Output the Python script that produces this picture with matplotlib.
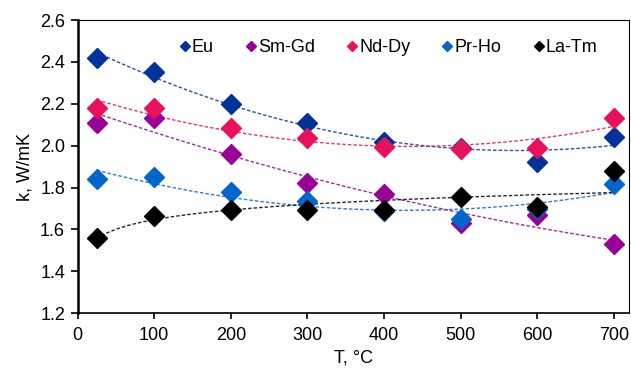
import numpy as np
import matplotlib
matplotlib.use("Agg")
import matplotlib.pyplot as plt

plt.rcParams['font.family'] = ['Liberation Sans', 'DejaVu Sans']

T = [25, 100, 200, 300, 400, 500, 600, 700]
series_names = ["Eu", "Sm-Gd", "Nd-Dy", "Pr-Ho", "La-Tm"]
eu = [2.42, 2.35, 2.20, 2.11, 2.02, 1.99, 1.92, 2.04]
sm_gd = [2.11, 2.13, 1.96, 1.82, 1.77, 1.63, 1.67, 1.53]
nd_dy = [2.18, 2.18, 2.085, 2.035, 1.995, 1.985, 1.99, 2.13]
pr_ho = [1.84, 1.85, 1.78, 1.735, 1.69, 1.648, 1.70, 1.815]
la_tm = [1.56, 1.665, 1.695, 1.695, 1.695, 1.755, 1.705, 1.88]
colors = ["#003399", "#990099", "#E8115B", "#0066CC", "#000000"]
trend_kind = ["poly", "poly", "poly", "poly", "log"]

xticks = [0, 100, 200, 300, 400, 500, 600, 700]
yticks = [1.2, 1.4, 1.6, 1.8, 2.0, 2.2, 2.4, 2.6]

fig = plt.figure(figsize=(6.31, 3.72), dpi=100)
ax = fig.add_axes([0.123, 0.158, 0.8743, 0.788])

data = [eu, sm_gd, nd_dy, pr_ho, la_tm]
x = np.array(T, dtype=float)
xs = np.linspace(x.min(), x.max(), 200)
for name, y, c, kind in zip(series_names, data, colors, trend_kind):
    y = np.array(y)
    if kind == "poly":
        p = np.polyfit(x, y, 2)
        ys = np.polyval(p, xs)
    else:
        p = np.polyfit(np.log(x), y, 1)
        ys = np.polyval(p, np.log(xs))
    ax.plot(xs, ys, linestyle=(0, (2.5, 1.5)), color=c, lw=1.0, alpha=0.85, zorder=2)
for name, y, c in zip(series_names, data, colors):
    ax.plot(T, y, linestyle='none', marker='D', markersize=10, color=c,
            markeredgecolor=c, label=name, zorder=3)

ax.set_xlim(0, 720)
ax.set_ylim(1.2, 2.6)
ax.set_xticks(xticks)
ax.set_yticks(yticks)
ax.set_yticklabels([f"{v:.1f}" for v in yticks])
ax.tick_params(direction='out', length=4, width=1.2, labelsize=13, colors='black')
ax.tick_params(axis='y', length=5, pad=4)
ax.tick_params(axis='x', pad=6)
for s in ['top', 'right']:
    ax.spines[s].set_linewidth(0.8)
ax.spines['left'].set_linewidth(1.8)
ax.spines['bottom'].set_linewidth(1.2)
ax.set_xlabel("T, °C", fontsize=13, labelpad=4)
ax.set_ylabel("k, W/mK", fontsize=13, labelpad=5)

ax.legend(loc='upper center', bbox_to_anchor=(0.564, 0.99), ncol=5, frameon=False,
          fontsize=13, markerscale=0.55, handlelength=0.5, handletextpad=0.15,
          columnspacing=1.8)

fig.savefig("out.png", dpi=100)
